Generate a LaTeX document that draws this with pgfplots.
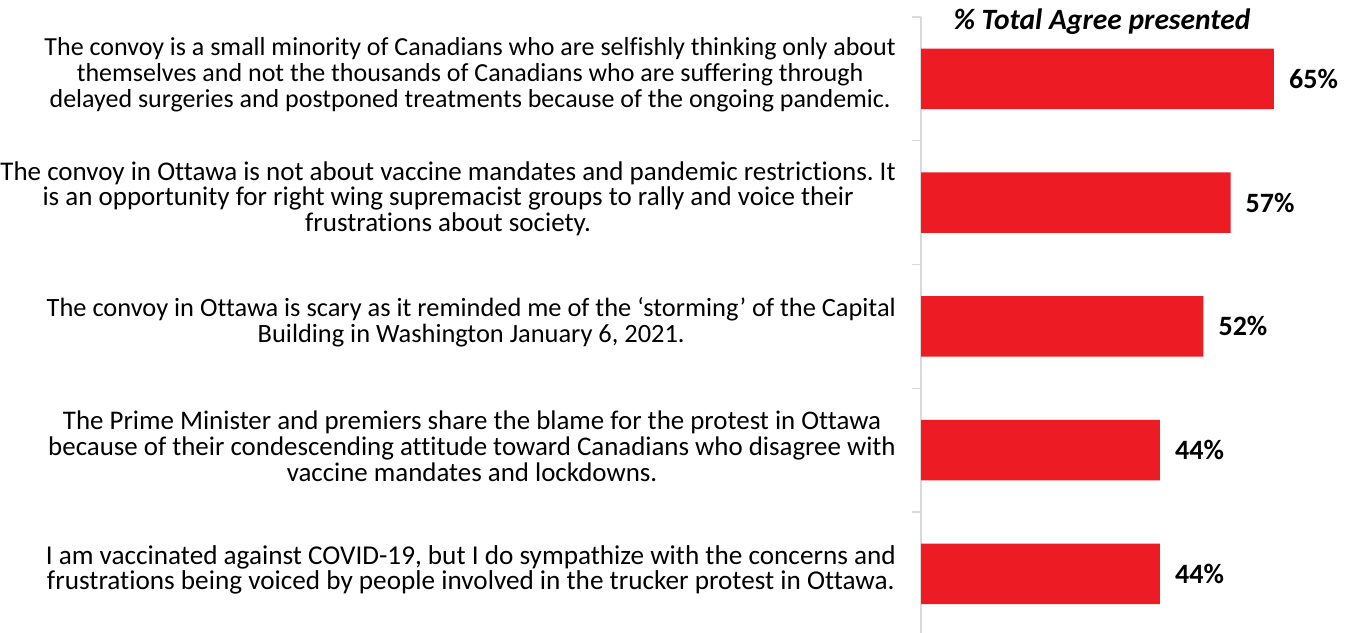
\documentclass[border=0pt]{standalone}
\usepackage{pgfplots}
\pgfplotsset{compat=1.18}
\usepackage{fontspec}
\setmainfont[Ligatures=NoCommon]{Carlito}
\definecolor{barred}{HTML}{ED1C24}
\definecolor{axgray}{HTML}{D9D9D9}
\frenchspacing
\begin{document}
\begin{tikzpicture}
\useasboundingbox (0bp,-633bp) rectangle (1353bp,0bp);
\begin{axis}[
  at={(921bp,-17bp)}, anchor=north west,
  scale only axis, width=434.4bp, height=618.75bp,
  xbar, bar width=0.49,
  xmin=0, xmax=80, ymin=-0.5, ymax=4.5,
  axis x line=none, axis y line*=left,
  y axis line style={axgray, line width=1.3bp},
  ytick={-0.5,0.5,1.5,2.5,3.5,4.5}, yticklabels={},
  major tick length=9bp, tick align=outside,
  tick style={axgray, line width=1.3bp},
  clip=false,
  point meta=explicit symbolic,
  nodes near coords,
  nodes near coords style={anchor=west, inner sep=0pt, xshift=15bp, font=\fontsize{28bp}{30bp}\selectfont\bfseries, text=black},
]
\addplot[fill=barred, draw=none] coordinates {(65,4) [65\%] (57,3) [57\%] (52,2) [52\%] (44,1) [44\%] (44,0) [44\%]};
\tikzset{lab/.style={anchor=east, inner sep=0pt, align=center, xshift=-25bp, yshift=4bp}}
\node[lab, font=\fontsize{26bp}{25.7bp}\selectfont] at (axis cs:0,4) {The convoy is a small minority of Canadians who are selfishly thinking only about\\themselves and not the thousands of Canadians who are suffering through\\delayed surgeries and postponed treatments because of the ongoing pandemic.};
\node[lab, font=\fontsize{27bp}{25.7bp}\selectfont] at (axis cs:0,3) {The convoy in Ottawa is not about vaccine mandates and pandemic restrictions. It\\is an opportunity for right wing supremacist groups to rally and voice their\\frustrations about society.};
\node[lab, font=\fontsize{26.4bp}{25.7bp}\selectfont] at (axis cs:0,2) {The convoy in Ottawa is scary as it reminded me of the ‘storming’ of the Capital\\Building in Washington January 6, 2021.};
\node[lab, font=\fontsize{26.9bp}{25.7bp}\selectfont] at (axis cs:0,1) {The Prime Minister and premiers share the blame for the protest in Ottawa\\because of their condescending attitude toward Canadians who disagree with\\vaccine mandates and lockdowns.};
\node[lab, font=\fontsize{27.2bp}{25.7bp}\selectfont] at (axis cs:0,0) {I am vaccinated against COVID-19, but I do sympathize with the concerns and\\frustrations being voiced by people involved in the trucker protest in Ottawa.};
\end{axis}
\node[anchor=base, inner sep=0pt, font=\fontsize{29.5bp}{32bp}\selectfont\bfseries\itshape] at (1102bp,-29bp) {\% Total Agree presented};
\end{tikzpicture}
\end{document}
